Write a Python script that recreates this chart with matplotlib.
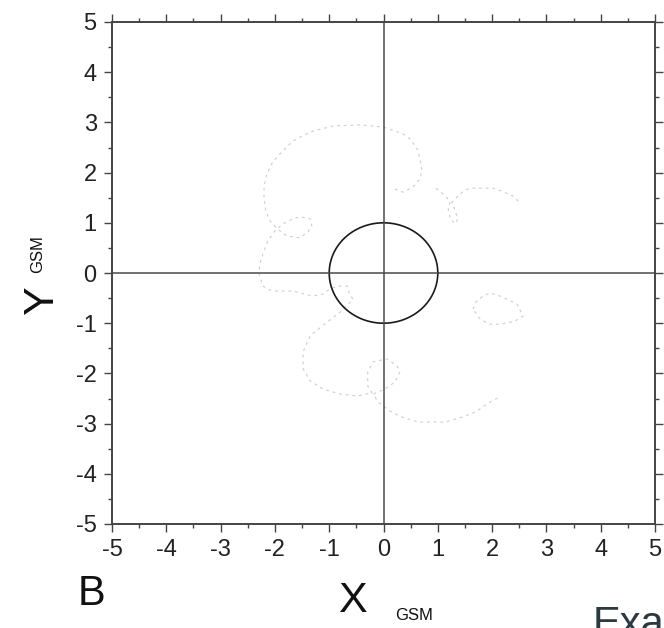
import numpy as np
import matplotlib
matplotlib.use("Agg")
import matplotlib.pyplot as plt
from matplotlib.ticker import MultipleLocator

plt.rcParams['font.family'] = ['Liberation Sans', 'DejaVu Sans']

# Axis range and ticks
x_range = (-5, 5)
y_range = (-5, 5)
tick_values = [-5, -4, -3, -2, -1, 0, 1, 2, 3, 4, 5]
tick_labels = ['-5', '-4', '-3', '-2', '-1', '0', '1', '2', '3', '4', '5']

# Earth (unit circle) radius
earth_radius = 1.0

# Trajectory pieces (X_GSM, Y_GSM)
upper_right_x = [2.48, 2.39, 2.18, 2.02, 1.59, 1.47, 1.26, 1.32, 1.37, 1.32, 1.23, 1.19, 1.23, 1.10, 1.04, 0.91]
upper_right_y = [1.43, 1.53, 1.63, 1.69, 1.69, 1.63, 1.41, 1.24, 1.08, 0.98, 1.08, 1.27, 1.43, 1.57, 1.63, 1.73]

main_x = [0.21, 0.36, 0.54, 0.67, 0.71, 0.67, 0.62, 0.49, 0.36, -0.01, -0.43, -0.93, -1.35, -1.67, -1.91,
          -2.04, -2.15, -2.20, -2.20, -2.17, -2.09, -1.96, -1.78, -1.54, -1.39, -1.32, -1.35, -1.54, -1.67,
          -1.85, -2.00, -2.13, -2.22, -2.28, -2.29, -2.22, -2.09, -1.96, -1.67, -1.30, -1.12, -0.99, -0.84,
          -0.67, -0.62, -0.56, -0.80, -1.04, -1.35, -1.48, -1.48, -1.35, -1.12, -0.80, -0.49, -0.21, -0.29,
          -0.29, -0.19, 0.06, 0.25, 0.30, 0.21, 0.03, -0.19, -0.10, 0.12, 0.34, 0.64, 1.13, 1.45, 1.69, 2.02,
          2.15]
main_y = [1.67, 1.61, 1.71, 1.87, 2.03, 2.27, 2.47, 2.67, 2.77, 2.91, 2.95, 2.93, 2.81, 2.63, 2.37,
          2.21, 1.97, 1.73, 1.47, 1.24, 1.04, 0.88, 0.74, 0.70, 0.82, 0.94, 1.08, 1.12, 1.08,
          0.98, 0.84, 0.64, 0.38, 0.18, -0.02, -0.26, -0.34, -0.36, -0.36, -0.46, -0.42, -0.32, -0.26,
          -0.26, -0.44, -0.52, -0.78, -0.98, -1.25, -1.57, -1.91, -2.15, -2.31, -2.41, -2.45, -2.39, -2.25,
          -1.97, -1.77, -1.71, -1.85, -1.97, -2.17, -2.31, -2.41, -2.57, -2.75, -2.87, -2.97, -2.97, -2.87, -2.77, -2.53,
          -2.47]

right_loop_x = [1.65, 1.70, 1.83, 1.96, 2.15, 2.46, 2.57, 2.42, 2.15, 1.96, 1.78, 1.69, 1.65]
right_loop_y = [-0.72, -0.58, -0.46, -0.40, -0.46, -0.62, -0.86, -0.96, -1.02, -1.02, -0.92, -0.78, -0.72]

fig = plt.figure(figsize=(6.64, 6.28), dpi=100)
ax = fig.add_axes([112/664, 1-524/628, (655-112)/664, (524-22)/628])

traj_style = dict(color='#cdcdcd', lw=0.8, linestyle=(0, (2.5, 3.5)))
ax.plot(upper_right_x, upper_right_y, **traj_style)
ax.plot(main_x, main_y, **traj_style)
ax.plot(right_loop_x, right_loop_y, **traj_style)

theta = np.linspace(0, 2*np.pi, 400)
ax.plot(earth_radius*np.cos(theta), earth_radius*np.sin(theta), color='#1a1a1a', lw=1.2)

ax.axhline(0, color='#4a4a4a', lw=1.1)
ax.axvline(0, color='#4a4a4a', lw=1.1)

ax.set_xlim(*x_range)
ax.set_ylim(*y_range)
ax.set_xticks(tick_values)
ax.set_xticklabels(tick_labels)
ax.set_yticks(tick_values)
ax.set_yticklabels(tick_labels)
ax.xaxis.set_minor_locator(MultipleLocator(0.5))
ax.yaxis.set_minor_locator(MultipleLocator(0.5))
ax.tick_params(which='both', direction='out', top=True, right=True, colors='#444444',
               labelcolor='#222222', labelsize=17)
ax.tick_params(which='major', length=6, width=1.0)
ax.tick_params(which='minor', length=3, width=1.0)
ax.tick_params(axis='x', pad=5)
ax.tick_params(axis='y', pad=5)
for s in ax.spines.values():
    s.set_color('#444444')
    s.set_linewidth(1.4)

fig.text(78/664, (628-605)/628, 'B', fontsize=30, color='#111111', ha='left', va='baseline')
fig.text(338/664, (628-612)/628, 'X', fontsize=31, color='#111111', ha='left', va='baseline')
fig.text(395/664, (628-620)/628, 'GSM', fontsize=12, color='#111111', ha='left', va='baseline')
fig.text(22/664, (628-300)/628, 'Y', fontsize=31, color='#111111', rotation=90, ha='left', va='center')
fig.text(30/664, (628-254)/628, 'GSM', fontsize=12, color='#111111', rotation=90, ha='left', va='center')
fig.text(593/664, (628-636)/628, 'Example', fontsize=30, color='#2a3a40', ha='left', va='baseline')

fig.savefig('out.png', dpi=100)
